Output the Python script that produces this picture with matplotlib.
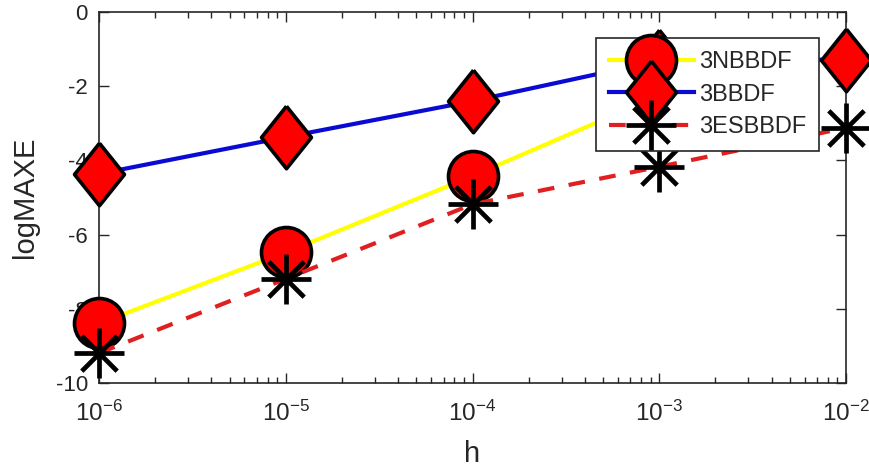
import matplotlib
matplotlib.use("Agg")
import matplotlib.pyplot as plt
from matplotlib.path import Path

plt.rcParams['font.family'] = ['Liberation Sans', 'DejaVu Sans']
plt.rcParams['mathtext.fontset'] = 'custom'
plt.rcParams['mathtext.rm'] = 'Liberation Sans'
plt.rcParams['mathtext.it'] = 'Liberation Sans:italic'
plt.rcParams['axes.unicode_minus'] = False

# values (no visible 3NBBDF mark at h=1e-2)
h = [1e-6, 1e-5, 1e-4, 1e-3, 1e-2]
nbbdf = [-8.39, -6.48, -4.42, -2.25]
bbdf = [-4.36, -3.37, -2.40, -1.31, -1.28]
esbbdf = [-9.19, -7.19, -5.18, -4.17, -3.12]
labels = ['3NBBDF', '3BBDF', '3ESBBDF']
xtick_labels = ['$10^{-6}$', '$10^{-5}$', '$10^{-4}$', '$10^{-3}$', '$10^{-2}$']
yticks = [-10, -8, -6, -4, -2, 0]

# matlab style markers
diamond = [(0, 1), (0.8, 0), (0, -1), (-0.8, 0), (0, 1)]
s = 0.7071
star = Path([(-1, 0), (1, 0), (0, -1), (0, 1), (-s, -s), (s, s), (-s, s), (s, -s)],
            [Path.MOVETO, Path.LINETO] * 4)

ink = '#262626'

fig = plt.figure(figsize=(8.69, 4.73), dpi=100)
ax = fig.add_axes([0.114, 0.190, 0.8595, 0.7846])

ax.plot(h[:len(nbbdf)], nbbdf, color='#ffff00', lw=3, marker='o', ms=36, mfc='#ff0000',
        mec='black', mew=2.6, clip_on=False, zorder=3, label=labels[0])
ax.plot(h, bbdf, color='#0a0ad2', lw=3, marker=diamond, ms=45, mfc='#ff0000', mec='black',
        mew=2.6, clip_on=False, zorder=3, label=labels[1])
ax.plot(h, esbbdf, color='#e02020', lw=3, ls=(0, (4, 3.5)), marker=star, ms=36, mfc='none',
        mec='black', mew=3.4, clip_on=False, zorder=3, label=labels[2])

ax.set_xscale('log')
ax.set_xlim(1e-6, 1e-2)
ax.set_ylim(-10, 0)
ax.set_xticks(h, xtick_labels)
ax.set_yticks(yticks)

ax.tick_params(which='both', direction='in', top=True, right=True, colors=ink, width=1)
ax.tick_params(which='major', length=7)
ax.tick_params(which='minor', length=4)
ax.tick_params(axis='x', pad=13, labelsize=17.5)
ax.tick_params(axis='y', pad=8, labelsize=16)
for sp in ax.spines.values():
    sp.set_color(ink)
    sp.set_linewidth(1.2)

ax.set_xlabel('h', fontsize=21, color=ink, labelpad=10)
ax.set_ylabel('logMAXE', fontsize=21, color=ink, labelpad=12)

leg = ax.legend(loc='upper right', bbox_to_anchor=(0.964, 0.930), borderaxespad=0,
                fontsize=17, fancybox=False, framealpha=1, edgecolor=ink,
                handlelength=3.6, handletextpad=0.22, borderpad=0.55, labelspacing=0.45,
                numpoints=1)
leg.get_frame().set_linewidth(1.2)
for t in leg.get_texts():
    t.set_color(ink)

fig.savefig('out.png', dpi=100)
